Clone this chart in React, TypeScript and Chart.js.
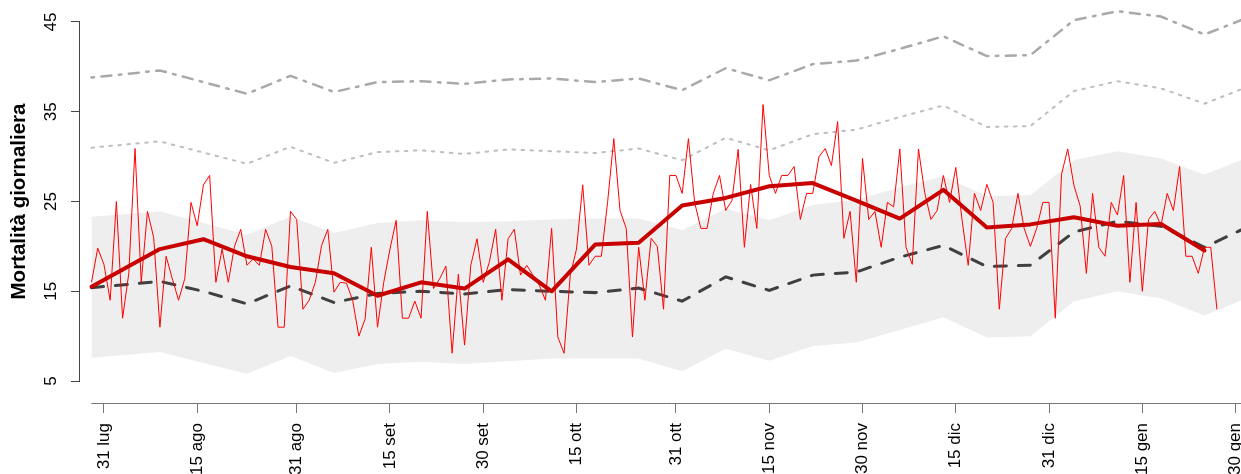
import React, { useEffect, useRef } from "react";
import { Chart, registerables } from "chart.js";

Chart.register(...registerables);

// x values: day index counted from 29 lug (index 0)
const dailyDeaths: number[] = [
  16, 19.8, 18, 14, 25, 12, 17, 30.9, 16, 23.9,
  21, 11, 18.9, 16.4, 14, 16.4, 24.9, 22.3, 26.85, 27.9,
  16, 19.7, 16, 20, 21.9, 17.9, 18.6, 17.9, 21.9, 20,
  11, 11, 23.9, 23, 13, 14, 16, 20.1, 21.9, 14.9,
  16, 15.9, 14, 10, 11.9, 19.9, 11, 16, 19.7, 22.9,
  12, 12, 13.9, 12, 23.9, 15.3, 16.4, 17.8, 8.1, 16.9,
  9, 17.9, 20.85, 16, 18.3, 21.9, 14, 20.85, 21.9, 16.8,
  17.9, 16.8, 15.7, 14, 22, 9.9, 8.1, 16.8, 19.7, 26.85,
  17.9, 18.9, 18.9, 24.9, 32, 24, 22, 9.9, 19.9, 14,
  20.9, 20, 13, 27.9, 27.9, 25.9, 32, 24.9, 22, 22,
  25.9, 27.9, 24, 25.1, 30.8, 19.9, 26.9, 22, 35.8, 27.9,
  25.9, 27.9, 27.9, 28.9, 23, 25.9, 25.9, 30, 30.9, 29,
  33.9, 20.9, 23.9, 16, 29.8, 23, 23.9, 19.9, 24.9, 24.4,
  30.85, 19.9, 18, 30.85, 26, 23, 24, 27.9, 24.9, 28.8,
  23, 17.9, 25.9, 24, 26.9, 24.9, 13, 20.9, 22, 25.9,
  22, 20, 22, 24.9, 24.9, 12, 28, 30.85, 26.8, 24.5,
  17, 25.9, 19.9, 18.9, 24.9, 23.5, 27.9, 16, 24.9, 15,
  23, 23.9, 22.3, 25.9, 24, 28.9, 18.9, 18.9, 17, 19.9,
  19.9, 13,
];

const weekIndex: number[] = [
  0, 11, 18, 25, 32, 39, 46, 53, 60, 67, 74, 81, 88, 95,
  102, 109, 116, 123, 130, 137, 144, 151, 158, 165, 172, 179, 186,
];

const weeklyObserved: number[] = [
  15.5, 19.7, 20.8, 18.9, 17.7, 17.0, 14.5, 16.0, 15.3, 18.55, 15.0, 20.2, 20.4,
  24.55, 25.4, 26.7, 27.05, 25.1, 23.1, 26.3, 22.1, 22.45, 23.25, 22.3, 22.5, 19.55,
];

const baseline: number[] = [
  15.4, 16.1, 15.0, 13.6, 15.6, 13.75, 14.75, 15.0, 14.7, 15.2, 15.0, 14.85, 15.35,
  13.9, 16.6, 15.1, 16.8, 17.15, 18.8, 20.1, 17.75, 17.9, 21.6, 22.8, 22.25, 19.9, 22.2,
];

const bandHigh: number[] = [
  23.3, 23.9, 22.6, 21.3, 23.3, 21.5, 22.6, 22.9, 22.7, 22.8, 23.0, 23.1, 23.1,
  21.8, 24.2, 22.9, 24.6, 25.2, 26.6, 27.8, 25.6, 25.7, 29.6, 30.6, 29.8, 28.0, 29.9,
];

const bandLow: number[] = [
  7.6, 8.25, 7.0, 5.8, 7.8, 5.9, 6.9, 7.15, 6.9, 7.2, 7.5, 7.5, 7.5,
  6.1, 8.6, 7.25, 8.9, 9.3, 10.7, 12.1, 9.85, 10.0, 13.9, 15.0, 14.2, 12.3, 14.3,
];

const thresholdDotted: number[] = [
  31.0, 31.7, 30.45, 29.2, 31.1, 29.3, 30.5, 30.7, 30.3, 30.8, 30.6, 30.4, 30.9,
  29.6, 32.1, 30.7, 32.5, 33.0, 34.4, 35.7, 33.3, 33.4, 37.3, 38.4, 37.6, 35.9, 37.8,
];

const thresholdDashDot: number[] = [
  38.8, 39.6, 38.3, 37.0, 39.0, 37.2, 38.3, 38.4, 38.1, 38.6, 38.7, 38.3, 38.7,
  37.4, 39.85, 38.5, 40.3, 40.7, 42.0, 43.4, 41.2, 41.3, 45.2, 46.2, 45.6, 43.6, 45.5,
];

const tickIndex: number[] = [2, 17, 33, 48, 63, 78, 94, 109, 124, 139, 154, 169, 184];
const tickLabels: string[] = [
  "31 lug", "15 ago", "31 ago", "15 set", "30 set", "15 ott", "31 ott",
  "15 nov", "30 nov", "15 dic", "31 dic", "15 gen", "30 gen",
];
const yTicks: number[] = [5, 15, 25, 35, 45];

const FONT = "'Liberation Sans', Arial, Helvetica, sans-serif";

const toPoints = (xs: number[], ys: number[]) => ys.map((y, i) => ({ x: xs[i], y }));

const axisLinePlugin = {
  id: "axisLines",
  afterDraw(chart: any) {
    const { ctx, chartArea, scales } = chart;
    const x = scales.x;
    const y = scales.y;
    ctx.save();
    ctx.lineWidth = 1;
    // y axis line from first to last tick
    ctx.strokeStyle = "#444444";
    ctx.beginPath();
    const ax = Math.round(chartArea.left) - 0.5;
    ctx.moveTo(ax, y.getPixelForValue(yTicks[yTicks.length - 1]));
    ctx.lineTo(ax, y.getPixelForValue(yTicks[0]));
    ctx.stroke();
    // x axis line from the first day to the right edge
    ctx.strokeStyle = "#777777";
    ctx.beginPath();
    const ay = Math.round(chartArea.bottom) + 0.5;
    ctx.moveTo(x.getPixelForValue(0), ay);
    ctx.lineTo(chartArea.right, ay);
    ctx.stroke();
    ctx.restore();
  },
};

export default function App() {
  const canvasRef = useRef<HTMLCanvasElement | null>(null);

  useEffect(() => {
    document.body.style.margin = "0";
    const canvas = canvasRef.current;
    if (!canvas) return;

    const chart = new Chart(canvas, {
      type: "line",
      data: {
        datasets: [
          {
            label: "Media settimanale",
            data: toPoints(weekIndex, weeklyObserved),
            borderColor: "#C80000",
            borderWidth: 4,
            pointRadius: 0,
            borderJoinStyle: "round",
            borderCapStyle: "round",
            order: 0,
          },
          {
            label: "Mortalità giornaliera",
            data: dailyDeaths.map((y, i) => ({ x: i, y })),
            borderColor: "#FF0000",
            borderWidth: 1,
            pointRadius: 0,
            order: 1,
          },
          {
            label: "Baseline",
            data: toPoints(weekIndex, baseline),
            borderColor: "#404040",
            borderWidth: 3,
            borderDash: [12, 12],
            borderCapStyle: "round",
            pointRadius: 0,
            order: 2,
          },
          {
            label: "Soglia 1",
            data: toPoints(weekIndex, thresholdDotted),
            borderColor: "#BEBEBE",
            borderWidth: 2,
            borderDash: [2.5, 6.5],
            borderCapStyle: "round",
            pointRadius: 0,
            order: 3,
          },
          {
            label: "Soglia 2",
            data: toPoints(weekIndex, thresholdDashDot),
            borderColor: "#A9A9A9",
            borderWidth: 2.5,
            borderDash: [2.5, 7.5, 10, 7.5],
            borderCapStyle: "round",
            pointRadius: 0,
            order: 4,
          },
          {
            label: "IC alto",
            data: toPoints(weekIndex, bandHigh),
            borderWidth: 0,
            borderColor: "rgba(0,0,0,0)",
            backgroundColor: "#EEEEEE",
            pointRadius: 0,
            fill: 6,
            order: 5,
          },
          {
            label: "IC basso",
            data: toPoints(weekIndex, bandLow),
            borderWidth: 0,
            borderColor: "rgba(0,0,0,0)",
            pointRadius: 0,
            fill: false,
            order: 6,
          },
        ],
      },
      options: {
        animation: false,
        responsive: false,
        devicePixelRatio: 1,
        layout: { padding: 0 },
        plugins: {
          legend: { display: false },
          tooltip: { enabled: false },
        },
        scales: {
          x: {
            type: "linear",
            min: -1.85,
            max: 184.87,
            position: "bottom",
            afterBuildTicks: (s: any) => {
              s.ticks = tickIndex.map((v) => ({ value: v }));
            },
            afterFit: (s: any) => {
              s.height = 71;
              s.paddingLeft = 0;
              s.paddingRight = 0;
            },
            ticks: {
              autoSkip: false,
              minRotation: 90,
              maxRotation: 90,
              padding: 10,
              color: "#000000",
              font: { family: FONT, size: 17 },
              callback: (_v: any, i: number) => tickLabels[i],
            },
            grid: {
              display: true,
              drawOnChartArea: false,
              drawTicks: true,
              tickLength: 10,
              color: "#777777",
            },
            border: { display: false },
          },
          y: {
            type: "linear",
            min: 2.5556,
            max: 47.4444,
            afterBuildTicks: (s: any) => {
              s.ticks = yTicks.map((v) => ({ value: v }));
            },
            afterFit: (s: any) => {
              s.width = 80;
              s.paddingTop = 0;
              s.paddingBottom = 0;
            },
            ticks: {
              minRotation: 90,
              maxRotation: 90,
              crossAlign: "center",
              padding: 10.5,
              color: "#000000",
              font: { family: FONT, size: 17 },
              callback: (v: any) => String(v),
            },
            grid: {
              display: true,
              drawOnChartArea: false,
              drawTicks: true,
              tickLength: 9,
              color: "#444444",
            },
            border: { display: false },
            title: {
              display: true,
              text: "Mortalità giornaliera",
              color: "#000000",
              font: { family: FONT, size: 20.5, weight: "bold" },
              padding: { top: 7.5, bottom: 0 },
            },
          },
        },
      },
      plugins: [axisLinePlugin],
    } as any);

    return () => chart.destroy();
  }, []);

  return (
    <div style={{ width: 1241, height: 474, overflow: "hidden", background: "#ffffff" }}>
      <canvas ref={canvasRef} width={1241} height={474} style={{ display: "block", width: 1241, height: 474 }} />
    </div>
  );
}
